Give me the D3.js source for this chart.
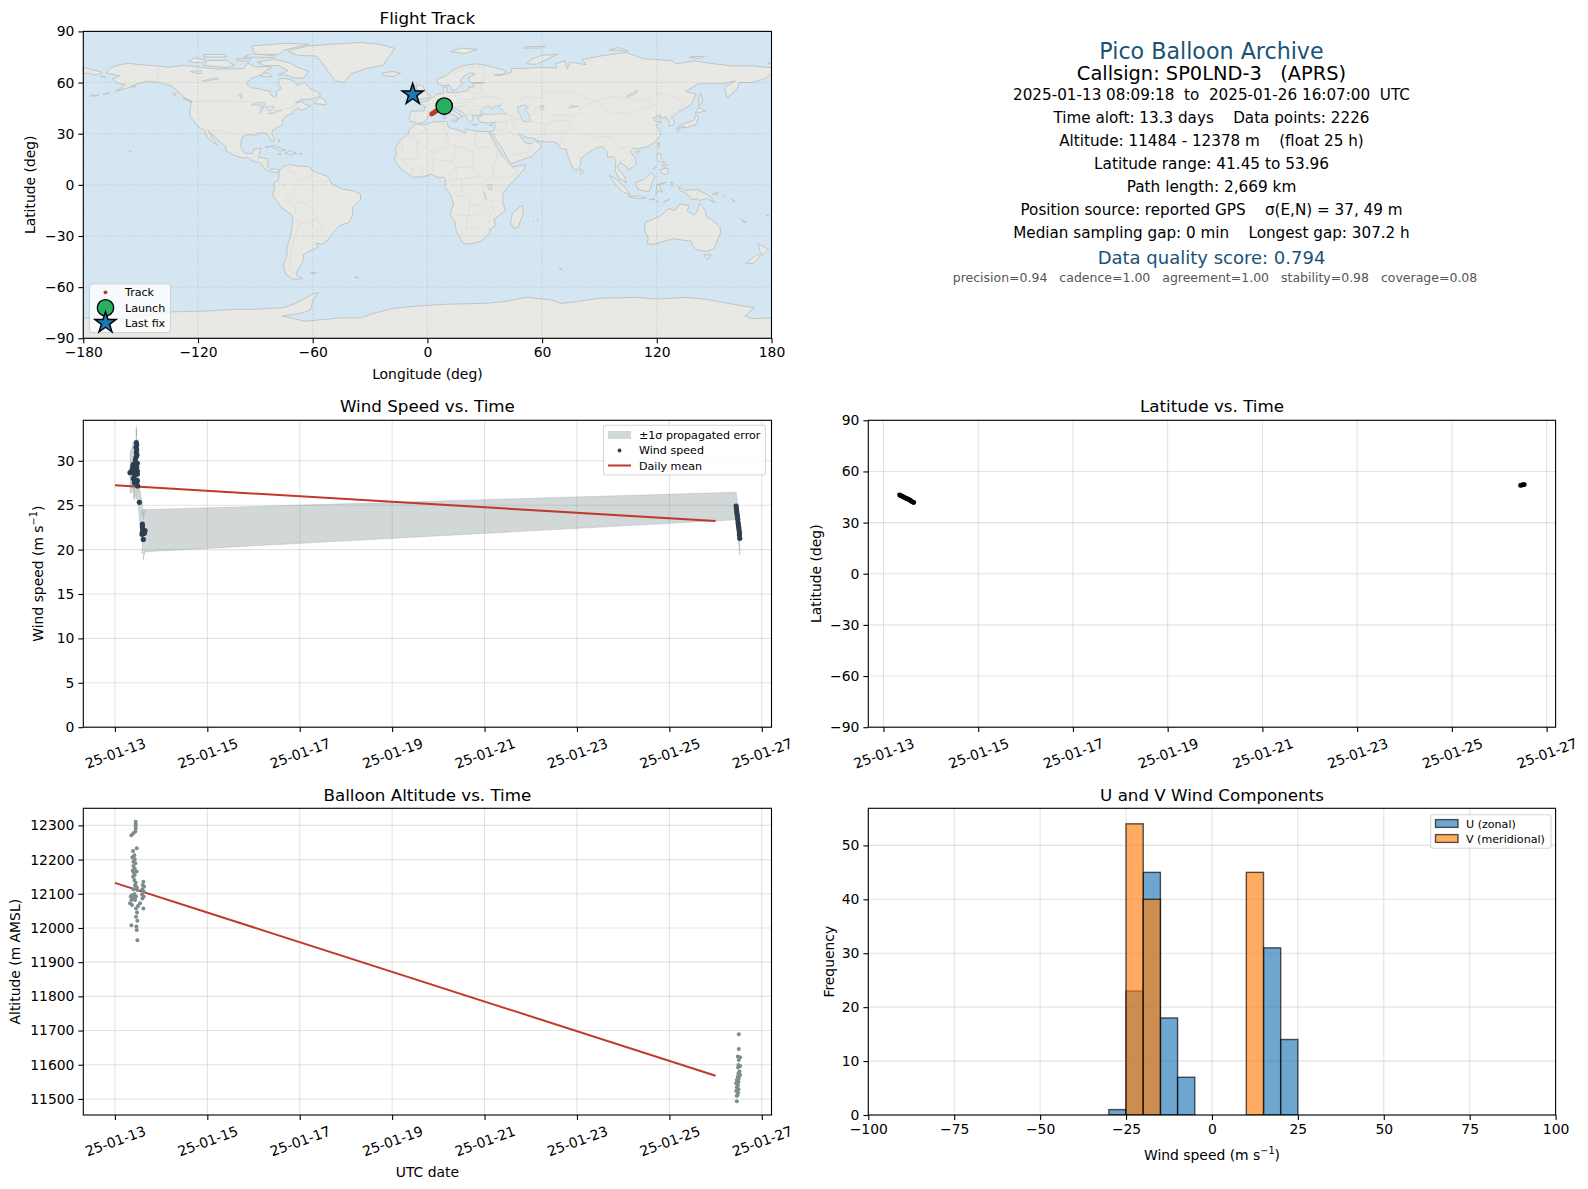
<!DOCTYPE html>
<html><head><meta charset="utf-8">
<script src="https://cdn.jsdelivr.net/npm/d3@7/dist/d3.min.js"></script>
<style>html,body{margin:0;padding:0;background:#fff}svg{display:block}text{font-family:"DejaVu Sans",sans-serif;fill:#000;white-space:pre}</style>
</head><body><svg id="c" width="1588" height="1189"></svg>
<script>
// ---------- land outlines (lon, lat) ----------
const continents = [
 [[-168,65.5],[-166,68.3],[-162,70.2],[-156.5,71.3],[-150,70.5],[-141,69.7],[-135,69],[-128,70],[-124,69.7],[-115,68.5],[-110,68],[-102,68],[-96,68.2],[-94,71.5],[-90,69],[-85,69.5],[-81.5,69],[-85,66.5],[-87,64.5],[-92,62.5],[-94.5,60],[-94,58.7],[-92.5,57],[-88,56.4],[-85,55.3],[-82.3,55],[-82,52.9],[-80,51.3],[-79,52],[-79,54.5],[-76.5,56.5],[-78,59],[-77.5,62.4],[-73.5,62.3],[-70,61],[-68,58.5],[-65.5,59.5],[-64.5,60.3],[-61.5,56.5],[-58,54.8],[-55.8,52.5],[-60,50.2],[-66,50.2],[-69,48],[-65,49],[-64.5,47.5],[-61,46],[-63.5,44.7],[-66,43.7],[-67,45],[-70,43.7],[-70.5,41.8],[-74,40.6],[-75.5,38],[-76,36.8],[-75.6,35.3],[-78,33.9],[-81,32],[-81.4,30],[-80,26.8],[-80.5,25.2],[-81.8,26],[-82.8,28],[-84,30],[-86,30.4],[-89.5,30.2],[-89.5,29.1],[-91,29.3],[-94,29.6],[-97,28],[-97.4,25.5],[-97.8,22.5],[-96,19],[-94.5,18.2],[-91.5,18.5],[-90.5,21],[-87,21.5],[-87.8,18.5],[-88.5,16],[-86,15.9],[-83.3,15],[-83.6,11],[-82,9],[-79.8,9.5],[-77.5,8.6],[-78,7.4],[-80.5,7.3],[-83,8.2],[-85.7,10],[-87.5,13],[-91.5,14],[-94.5,16.2],[-96.5,15.7],[-101,17.3],[-105.5,20],[-105.5,22.5],[-109,25.8],[-112.5,29.5],[-114.7,31.7],[-112.5,27.5],[-109.8,23],[-112,24.7],[-115,28],[-117.1,32.5],[-120.6,34.5],[-122.5,37.7],[-124.3,40.3],[-124,46],[-123,49],[-127,51],[-130,54.5],[-134,58],[-139,59.8],[-146,60.8],[-152,59.2],[-156,57.2],[-163,54.8],[-158,58.6],[-162,59.8],[-165,62],[-161,64],[-168,65.5]],
 [[-77.5,8.6],[-75.5,10.7],[-72,12],[-68,11],[-62,10.7],[-60,8.3],[-52,4.8],[-50,0.5],[-44.5,-2.5],[-38,-3.7],[-35,-5.5],[-35,-9],[-39,-13],[-39.2,-18],[-41,-22],[-46,-24],[-48.7,-27],[-52,-32.5],[-55,-34.8],[-58.3,-34],[-57,-36.5],[-62,-39],[-65,-41],[-65,-45],[-68,-50],[-68.5,-53],[-65.2,-55],[-70,-55.5],[-74,-52.5],[-75.5,-47],[-73.5,-42],[-73.5,-37],[-71.5,-30],[-70.3,-20],[-71.5,-17.2],[-76.2,-13.5],[-81.2,-5.5],[-80,-2.5],[-80.5,1],[-78,2.5],[-77.5,7]],
 [[-6,35.8],[-2,35.1],[3,36.9],[10,37.2],[11,33.8],[15,32.4],[20,30.5],[20,32.8],[25,31.6],[32.3,31.2],[32.6,29.8],[35.5,24],[37.2,21],[38.5,18],[43,12],[44.5,10.5],[51.2,11.8],[50.5,9],[47,4.5],[42,-1.5],[39.5,-5],[39.5,-10],[40.7,-15],[35,-20],[35.5,-24],[32.8,-26],[32.5,-28.5],[28,-33],[25.5,-34],[20,-34.8],[18.4,-34],[15,-27],[14.5,-22],[11.8,-17],[13.7,-11],[12,-5.5],[9,-1],[9.5,3.5],[8.5,4.5],[5.5,4.3],[2,6.3],[-2,4.8],[-7.5,4.4],[-13,8.5],[-15,11],[-17.3,14.7],[-16,19],[-17,21],[-14.5,26],[-10,30],[-9.7,32]],
 [[-9,37],[-9.5,38.8],[-8.8,43.2],[-1.8,43.4],[-1.2,46],[-4.6,48.4],[-1.5,48.7],[1.5,50.5],[4,52],[5,53.3],[8.5,53.8],[8.2,57],[10.5,57.6],[10,54.5],[12,54.2],[14.2,54],[18.5,54.7],[21,55.2],[21.5,57.5],[24,57.2],[24,59.3],[28,59.6],[30,60],[25,60],[22.5,60],[21.3,62.5],[25,65],[22,65.8],[17.8,62.5],[17.2,60.7],[18.8,59.8],[16.5,57.5],[14.3,55.5],[12.8,55.5],[11.3,58.8],[8,58.1],[5.5,59],[5,62],[10,64],[14,67.7],[19,70],[25.5,71],[31,70],[41,67],[40,65],[35,64.5],[38,64],[44,66],[44,68.2],[54,68.5],[60,69],[68,68.5],[67,71],[72,72.7],[73,68],[75,72],[83,70.5],[81,73.5],[90,75.5],[104,77.7],[113,74],[128,72.8],[130,71],[140,72.7],[150,71],[160,69.7],[170,69.8],[178,68.9],[180,68.9],[180,65.2],[177,62.5],[170,60],[163,60],[162,56],[156.7,51],[155.5,57],[161,61],[155,59.3],[142,59.3],[135,54.8],[140.5,53.3],[138,47],[132,43.2],[129.5,41],[127.5,39.7],[129.3,37],[128.8,35.2],[126.3,34.5],[126.6,37.5],[125,38.5],[125,40],[121.5,39],[122,41],[118,39],[119.3,37.3],[122.5,37],[119.5,35],[121.8,31.5],[122,29],[119.5,25.5],[116,22.8],[110.5,21.2],[108,21.5],[106,19.5],[108.8,15.5],[109.3,12],[105,8.7],[104.8,10],[100.8,13.4],[99.3,10],[103.3,4.5],[104,1.4],[100.5,3.5],[98.3,8],[98.5,14],[97,16.8],[94.3,16],[94,19.5],[91.5,22.6],[88.5,21.7],[85,19.5],[80.3,15.5],[80,11.5],[77.5,8],[75,12.5],[73,18.5],[72.7,21],[70,21],[68.5,23.5],[66.5,25.2],[61.5,25.2],[57,25.8],[56.5,27],[51,28],[48.5,30],[47.8,29],[50.3,26],[51.5,24.5],[54.5,24.2],[56.4,26.2],[59.8,22.5],[55,17],[45,12.8],[43.2,12.8],[39.2,21],[35,28],[34.8,29.5],[32.6,30],[32.3,31.2],[34.5,31.5],[36,36.8],[32,36.2],[27.5,36.8],[26.3,39.5],[29,41],[26,40.8],[23.5,40.5],[24,38],[22.7,36.6],[21,38.5],[19.5,41.5],[18.5,42.5],[13.7,45.5],[12.4,45],[12.5,44],[16,41.8],[18.5,40],[16.5,39.5],[16,38],[15.5,40],[12.5,41.5],[10.5,43],[8.5,44.4],[5,43.3],[3,43.2],[3.2,41.8],[0.5,40.5],[-0.3,38.7],[-2,36.8],[-5.3,36],[-7,37]],
 [[-180,68.9],[-175,67.5],[-170,66],[-173,64.3],[-178,65.5],[-180,65.2]],
 [[114,-22],[113.5,-26],[115.5,-31.5],[115,-34.3],[118,-35],[124,-33],[129,-31.6],[134,-32.5],[138,-33],[138.5,-35.5],[141,-38.2],[146,-39],[150,-37.5],[151.5,-33],[153.5,-28],[153,-25],[149,-20.5],[146,-18.8],[145.3,-15],[142.5,-10.8],[141,-16],[139.5,-17.5],[136,-15.5],[136.8,-12],[132,-11.3],[129.5,-15],[126,-14],[122.2,-18],[117,-20.7]],
 [[-180,-78],[-165,-78.5],[-155,-79.5],[-150,-77],[-135,-74.5],[-115,-74],[-100,-73],[-90,-73],[-75,-72],[-68,-69],[-60,-64],[-57,-63.2],[-60,-68],[-61,-73],[-65,-75],[-76,-77],[-64,-80],[-45,-78],[-35,-78],[-27,-75],[-18,-72.5],[-5,-71],[10,-70],[30,-69.5],[40,-68.5],[52,-66],[65,-67.5],[70,-69.5],[78,-68.5],[90,-66.5],[110,-66],[120,-67],[135,-66],[145,-67],[155,-69],[165,-71],[171,-72],[166,-77],[170,-78.5],[180,-78],[180,-90],[-180,-90]],
 [[-73,78.2],[-68,76],[-58,75.5],[-54,70],[-51,65],[-48,61],[-43.5,59.9],[-40,65],[-32,68.2],[-23,70.2],[-21,74],[-19,77],[-17,80],[-25,82.5],[-35,83.5],[-50,82.5],[-62,81.5],[-70,79.5]]
];
const islands = [
 [[-80,73.7],[-72,71.5],[-68,69],[-62,66.5],[-65,62.5],[-70,62.8],[-74,64.5],[-78,64.5],[-73,67],[-78,70],[-85,70],[-89,72]],
 [[-117,70],[-105,68.8],[-101,70],[-105,73],[-115,73]],[[-125,72],[-118,71.5],[-116,73.5],[-122,74.5]],
 [[-90,76.5],[-78,76.5],[-75,79],[-62,82.5],[-75,83],[-92,81.5]],[[-96,75],[-80,74.7],[-80,75.7],[-92,76.8]],
 [[-117,75],[-105,75],[-106,76.5],[-117,76.5]],[[-100,73],[-93,72.5],[-92,74],[-100,74]],[[-87,63.5],[-81,63.5],[-83,65.5],[-86,65.7]],
 [[-59,47.7],[-53,46.8],[-53,49],[-56,51.5],[-58,49.5]],[[-128,50.7],[-125,50],[-123.5,48.4]],[[-133,54],[-131.5,53],[-132,52],[-133,53]],
 [[-155,57.5],[-152.5,57.5],[-153,58.2]],[[-156,20],[-155,19.5],[-155.5,19]],[[-176,52],[-172,52.3],[-172,52.8],[-176,52.5]],[[-170,53],[-166,53.8],[-168,53.5]],[[-171,63.5],[-168.5,63.2],[-170,63.8]],
 [[-85,22],[-80,23],[-74.2,20.2],[-77.5,19.9],[-78,20.7],[-82,22.5]],[[-74.4,18.5],[-72,20],[-68.5,18.5],[-71.5,17.7]],[[-78.3,18.3],[-76.3,18.1],[-77,17.8]],[[-67.2,18.4],[-65.7,18.3],[-66.5,18]],[[-78,26.7],[-77,26],[-77.5,25]],
 [[-61,-51.5],[-58,-51.5],[-59,-52.3]],[[-38,-54],[-36,-54.2],[-36.5,-54.8]],[[69,-49],[70.5,-49.5],[69.5,-49.7]],
 [[-5.5,50],[1.3,51.2],[1.7,52.7],[0,53.5],[-1.5,55],[-2,57.5],[-3.5,58.6],[-6,58.5],[-5.5,56],[-3,54],[-5,52]],
 [[-10,52],[-6.2,52.2],[-6,54],[-8,55.2],[-10,54]],[[-24,65.5],[-18,66.5],[-14,65.5],[-18,63.5],[-22.5,64]],
 [[12,78],[20,77],[26,79.5],[17,80.2]],[[52,71],[57,70.7],[68,76.5],[60,76],[54,73.5]],[[50,80.2],[60,80.3],[62,81.3],[52,81]],[[95,79],[105,78.5],[100,80.5]],[[137,75],[145,75.5],[142,74]],[[178,71],[180,71],[179,71.5]],
 [[12.5,38],[15.5,38],[15,36.7]],[[8.3,41],[9.7,41],[9.5,39],[8.5,39]],[[8.7,42.5],[9.5,43],[9.3,41.5]],[[23.5,35.5],[26.2,35.2],[24,35]],[[32.5,35],[34.5,35.6],[33.5,34.6]],
 [[49.5,-12],[50.3,-16],[47.5,-24.8],[45,-25.5],[43.5,-22],[44.5,-16.5]],[[55.3,-21],[55.8,-21.2],[55.4,-21.4]],[[57.3,-20],[57.8,-20.3],[57.4,-20.5]],
 [[80,9.7],[81.8,7.5],[80.5,6],[79.8,8]],[[131,34],[136,33.6],[140.5,35.5],[141.8,39.5],[140.5,41],[139.5,38],[136,36.5],[132,35]],[[140,42],[145.5,43.3],[142,45.5]],[[130,33.5],[132,33],[131,31]],[[132.5,34],[134.5,34.2],[133,33]],
 [[142,46],[144,49],[143,54],[142,52]],[[120.2,23],[121.5,25.2],[121,22]],[[108.7,19.3],[111,20],[110,18.3]],
 [[120.5,18.5],[122.3,18.3],[122,16],[124,13],[121,13.7],[120,16]],[[122,9],[125.5,9.8],[126.3,7],[124,6],[122,7.5]],[[118,9],[119.5,11],[118.8,9.5]],[[122.5,11.5],[125.5,12],[124.5,10]],
 [[109,1.5],[113,3],[117,7],[119,5],[117.5,1],[116,-4],[110.5,-3],[109,0]],[[95.3,5.5],[98,4],[104,-2],[106,-5.8],[102,-4],[98.5,0]],[[105.2,-6.8],[110,-6.5],[114.5,-7.7],[110,-8.2]],
 [[119.5,-5.5],[120,0],[125,1.5],[121,0],[123,-4.5],[121,-3]],[[127.5,2],[128.5,1],[128,-0.8]],[[116,-8.5],[119,-8.3],[117,-9]],[[119.5,-9.5],[120.8,-9.8],[120,-10]],[[123.5,-10.2],[127,-8.5],[125,-9.3]],
 [[131,-1],[135,-3.3],[141,-2.7],[147,-6],[150.5,-10.5],[146,-8],[143,-9],[138,-8.3],[135,-4.5],[132.5,-3.8]],[[149,-5.5],[152,-4.2],[152,-5.5]],[[155,-6],[156,-7],[155.5,-6.5]],[[159,-8],[161,-10],[160,-9.8]],
 [[173,-34.5],[178.5,-37.7],[175,-41.5],[174,-39]],[[172.7,-40.7],[174,-42],[170.5,-46],[166.5,-46]],[[144.7,-41],[148.3,-41],[147,-43.5],[146,-43.5]],[[164,-20],[167,-22.3],[165,-21.5]],[[177.3,-17.5],[178.7,-18],[177.5,-18.3]]
];
const waters = [
 [[28,41.5],[31.5,41.2],[36,41.5],[41.5,41.5],[39,44.5],[37,45.3],[38.5,47],[35,45.7],[33.5,44.4],[33,46],[30.8,46.4],[28.5,44],[27.8,42.5]],
 [[47,45.5],[51,47],[53,45.3],[51,44.5],[53,41.5],[54,37],[50,37.3],[49,39.5],[47.5,43]],
 [[-92,46.8],[-88,48.7],[-85,47.8],[-85,46.6],[-88,46.8]],[[-87.5,41.8],[-86.5,43.5],[-85.2,45.8],[-87.5,45.5]],[[-84.5,46],[-80,45.8],[-81.5,43.5],[-82.5,43.2],[-83.8,44]],[[-83.3,41.8],[-79,42.8],[-79,42.6],[-82,41.5]],[[-79.7,43.3],[-76.3,44],[-76.5,43.4]],
 [[-124,66.5],[-118,67],[-118,65.3],[-122,65.5]],[[-118,61],[-110,62.8],[-109,62.2],[-116,60.8]],[[-99,53],[-97,53.5],[-97,50.5],[-98,52]],
 [[58.5,46],[61,46.5],[60,44]],[[75,46.5],[79,46],[74,45]],[[104,52],[110,55.5],[109.5,54],[105,51.5]],[[31,0],[34,0],[33.5,-3],[32,-2.5]],[[29.5,-4],[30.5,-7],[31,-8.5],[29.8,-6]]
];
const borders = [
 [[-123,49],[-95,49],[-89,48],[-83,46],[-82.5,42],[-79,43],[-76,44],[-74.7,45],[-71,45],[-69,47.3],[-67.5,45.5]],[[-141,69.7],[-141,60.2],[-135,59]],[[-117,32.5],[-108,31.5],[-106.5,31.7],[-101,29.5],[-97.3,25.9]],
 [[-91.5,14.5],[-91,17.5],[-89,17.8]],[[-88,15.8],[-89.3,14],[-87.5,13]],[[-83.3,15],[-85,13.5],[-87,13]],[[-83.7,11],[-85.7,11]],[[-82.7,9.5],[-83,8.2]],
 [[-72,12],[-72.5,8],[-67.5,6],[-67.5,2],[-70,1],[-69.5,-4.2],[-74,-7.5],[-70.5,-11],[-69,-15],[-69.5,-17.5],[-70.3,-18.3]],[[-60,8.3],[-61,5],[-64,4],[-67.5,2]],[[-57,6],[-58,2],[-52,2.2],[-52,4.8]],[[-78,1.5],[-75,0],[-75.5,-2],[-78.5,-4.5],[-80.3,-3.5]],[[-69.5,-11],[-65,-10],[-60,-14],[-58,-16],[-58,-20],[-62.5,-22],[-67,-23],[-69,-19]],[[-58,-20],[-54.5,-25.5],[-58,-27],[-57.5,-30],[-53.5,-33.8]],[[-62.5,-22],[-60,-24],[-58,-27]],[[-67,-23],[-70,-33],[-71.5,-40],[-72,-50],[-68.5,-52.5]],
 [[-2,35.1],[-1,32],[-8.7,27.5],[-13,27.7]],[[-8.7,27.5],[-4.8,25],[3,19],[12,23.5]],[[8,37],[9.5,30],[10,24.5]],[[11.5,33],[10,30],[12,23.5],[15,23],[24,19.5],[25,22],[25,31.6]],[[25,22],[36.5,22]],[[24,19.5],[24,10],[27,5],[31,3.7],[35,4.5],[42,4],[48,8],[44,10.5]],[[36.5,22],[36,15],[38,18],[43,12.5]],[[35,4.5],[34,10],[36,15]],[[-17,21],[-13,21],[-13,27.7]],[[-16.5,16],[-12,15],[-5,15.5],[-5.5,25]],[[3,19],[3.5,15],[3,12],[2.5,6.3]],[[-12,15],[-11.5,12],[-8,10],[-8,4.5]],[[-5,10],[-2.5,11],[-2.8,5]],[[3.5,15],[13.5,13.5],[15,10],[8.8,4.5]],[[13.5,13.5],[15,23]],[[14.5,10],[23,10.5]],[[15,8],[15.5,3],[9.8,2.2]],[[15.5,3],[18,3.5],[27,5]],[[14,-4.5],[18,-4],[18,3.5]],[[12.5,-6],[22,-7],[22,-11],[24,-12],[28,-12],[30,-8.5],[29,-2],[31,3.7]],[[34,0],[42,-1.5]],[[30,-1],[34,-1],[39.5,-4.7]],[[30,-8.5],[34,-9.5],[40,-10.5]],[[12,-17],[23,-18],[25,-18],[30,-15.5],[34,-12],[35,-16]],[[14.5,-17.3],[21,-18],[20,-28.5],[17,-28.7]],[[20,-25],[25.5,-25.5],[29,-22],[32.5,-26]],[[33,-16],[32,-22.5]],[[22,-11],[22,-18]],
 [[-9,42],[-6.5,42],[-7,38],[-7.4,37.2]],[[-1.8,43.4],[3,42.5]],[[2.5,51],[6,49.5],[8,49],[7.5,47.5],[6,46.3],[7,44]],[[6,51.5],[7,53.3]],[[9,54.8],[8.5,54.8]],[[7.5,47.5],[13,47.5],[17,48],[22,48.5],[24,48],[28,45.5],[29.5,45.3]],[[14,54],[15,51],[19,49.5],[24,50.5],[23.5,54],[21,55.2]],[[24,50.5],[32,52],[40,50],[38.5,47]],[[23.5,54],[31,53],[28,56],[27.5,59.5]],[[21,56.3],[28,56]],[[22.5,57.7],[27,57.5]],[[28.8,60],[30,65],[29,69.5]],[[14,65],[20,69]],[[20,69],[25.5,68.8],[29,69.5]],[[13.7,45.5],[19,46],[22.5,44.3],[22.5,41.5],[19.5,41.5]],[[26,41.5],[22.5,41.5],[20.5,40]],[[22.5,44],[28,43.7]],[[26.3,41],[28,42]],
 [[36,36.8],[42,37],[44.5,39.5],[41.5,41.5]],[[44.5,39.5],[48,39],[44,37.5],[46,33],[48.5,30]],[[42,37],[41,33.5],[39,32],[35,29.5]],[[46,33],[42,31],[47.5,29]],[[39,32],[36,32.5],[35.7,34.5],[36,36.8]],[[43,17],[52,19],[55,22],[52,24]],[[53,17],[52,19]],
 [[61,25.2],[61.5,35.5],[66,37.3],[71,38],[75,37],[74,33],[71,31],[66.5,30],[61,29.5]],[[61.5,35.5],[54,37]],[[53,41.5],[56,41.5],[56,45],[61,44],[66,41],[70.5,41],[74,40],[80,42],[80,45],[87.5,49],[83,51],[77,54],[70,55],[61,54],[59,51],[51,51.5],[47,49]],[[75,37],[78,35],[79,32],[81,30],[88,27.8],[97,28.5],[98,24],[101,21.5],[106,22.5],[108,21.5]],[[68.5,23.5],[71,25],[70,28],[74.5,32]],[[88,27.8],[89,26],[92,25],[93,23],[92.3,21]],[[101,21.5],[98,18],[99,11]],[[101,21.5],[105,18],[107.5,14.5],[105,11]],[[100,14],[103,14.5]],[[87.5,49],[98,52],[107,50],[114,50],[120,53.5],[125,53],[135,48.5],[131,43]],[[87.5,49],[96,42.7],[105,41.7],[112,44],[119,47],[114,50]],[[124.5,40],[130,42.5]],[[126,38],[128.5,38.5]],
 [[141,-2.7],[141,-9]]
];
// ---------- flight track ----------
const trackLon = [2.2,2.6,3,3.5,4,4.5,5.2,6,6.8,7.6,8.3,8.8,-9.2,-8.8,-8.4,-8];
const trackLat = [41.5,41.8,42.1,42.5,42.9,43.2,43.7,44.2,44.7,45.2,45.7,46.2,51.9,52.1,52.3,52.5];
const launchPoint = [8.8,46.2];
const lastFix = [-7.7,53];
const lonTicks = [-180,-120,-60,0,60,120,180];
const latTicks = [-90,-60,-30,0,30,60,90];
// ---------- wind speed (days since 2025-01-13 00:00 UTC) ----------
const windDays = [.327,.370,.385,.399,.399,.399,.421,.428,.428,.442,.442,.457,.457,.464,.464,.471,.471,.471,.471,.478,.486,.486,.486,.486,.493,.529,.594,.594,.586,.594,.601,.651,.637,.615,.623,13.444,13.452,13.458,13.465,13.473,13.48,13.487,13.494,13.501,13.508,13.516,13.516,13.523];
const windSpeed = [28.66,28.96,29.34,29.60,28.74,28.02,27.54,29.04,28.40,27.84,30.09,30.39,31.52,32.04,30.91,31.78,31.22,29.26,27.39,30.65,29.71,28.85,28.51,27.76,27.16,25.32,22.88,22.58,21.72,21.98,22.28,22.13,21.83,21.15,22.12,24.91,24.6,24.27,24.0,23.71,23.41,23.03,22.77,22.5,22.2,21.9,21.64,21.27];
const windSigma = [2.3,2.5,2.4,2.5,2.4,2.2,2.0,2.1,2.0,2.0,2.0,2.0,1.9,1.9,1.9,1.8,1.8,1.8,1.7,1.8,1.7,1.7,1.7,1.6,1.6,1.7,2.3,2.3,2.2,2.3,2.3,2.3,2.3,2.3,2.37,1.55,1.55,1.6,1.6,1.7,1.7,1.8,1.8,1.8,1.9,1.9,1.9,1.9];
const windMeanDays = [0,13];
const windMean = [27.24,23.22];
// ---------- latitude ----------
const latDays = [.34,.36,.38,.40,.42,.44,.46,.48,.50,.52,.54,.56,.58,.60,.62,.64,13.45,13.47,13.49,13.51,13.53];
const latValues = [46.2,45.9,45.6,45.3,45,44.8,44.5,44.2,44,43.7,43.4,43.1,42.7,42.3,42,41.8,51.8,52,52.1,52.2,52.3];
// ---------- altitude ----------
const altDays = [.450,.450,.450,.450,.443,.400,.356,.472,.392,.421,.378,.428,.400,.443,.400,.428,.385,.472,.407,.428,.392,.421,.450,.436,.472,.400,.486,.616,.602,.631,.595,.623,.587,.623,.595,.421,.371,.342,.457,.400,.356,.436,.327,.371,.544,.501,.457,.616,.479,.457,.486,.356,.465,.472,.486,13.502,13.502,13.48,13.531,13.502,13.495,13.531,13.487,13.516,13.495,13.531,13.48,13.502,13.459,13.495,13.444,13.487,13.459,13.495,13.444,13.487,13.473,13.459,13.459];
const altValues = [12311,12304,12298,12291,12282,12277,12271,12233,12225,12213,12207,12201,12194,12189,12181,12174,12168,12165,12162,12155,12150,12140,12132,12125,12119,12113,12111,12135,12126,12121,12113,12106,12098,12092,12086,12099,12096,12092,12092,12087,12082,12082,12072,12067,12072,12064,12057,12057,12045,12033,12021,12008,12004,11994,11964,11689,11646,11624,11622,11614,11599,11596,11592,11580,11575,11570,11565,11560,11555,11550,11546,11541,11534,11528,11523,11518,11511,11509,11493];
const altMeanDays = [0,13];
const altMean = [12132,11568];
const altTicks = [11500,11600,11700,11800,11900,12000,12100,12200,12300];
// ---------- histograms ----------
const uBinStart = [-30,-25,-20,-15,-10,15,20];
const uCounts = [1,23,45,18,7,31,14];
const vBinStart = [-25,-20,10];
const vCounts = [54,40,45];
const binWidth = 5;
const histXTicks = [-100,-75,-50,-25,0,25,50,75,100];
const histYTicks = [0,10,20,30,40,50];
const dateTicks = [0,2,4,6,8,10,12,14];
// ---------- text block ----------
const infoLines = [
 ["Pico Balloon Archive",22.2,"#1a5276",50.6,1211.5],
 ["Callsign: SP0LND-3   (APRS)",19.4,"#000",73,1211.5],
 ["2025-01-13 08:09:18  to  2025-01-26 16:07:00  UTC",15.2,"#000",94.5,1211.5],
 ["Time aloft: 13.3 days    Data points: 2226",15.2,"#000",117.5,1211.5],
 ["Altitude: 11484 - 12378 m    (float 25 h)",15.2,"#000",140.5,1211.5],
 ["Latitude range: 41.45 to 53.96",15.3,"#000",163.5,1211.5],
 ["Path length: 2,669 km",15.3,"#000",186.5,1211.5],
 ["Position source: reported GPS    σ(E,N) = 37, 49 m",15.2,"#000",209.5,1211.5],
 ["Median sampling gap: 0 min    Longest gap: 307.2 h",15.2,"#000",232.5,1211.5],
 ["Data quality score: 0.794",18,"#1a5276",257.5,1211.5],
 ["precision=0.94   cadence=1.00   agreement=1.00   stability=0.98   coverage=0.08",12.5,"#555",277.5,1215]
];
// ---------- drawing ----------
const RED="#c0392b", NAVY="#2c3e50", SLATE="#7f8c8d";
const svg=d3.select("#c");
const L=83.3,R=771.5,L2=868.3,R2=1555.6;
const T1=31.4,B1=338.3,T2=420.3,B2=727.2,T3=808.3,B3=1115;
const fmtDate=d=>d3.utcFormat("%y-%m-%d")(new Date(Date.UTC(2025,0,13+d)));
function panel(id,x0,x1,y0,y1,xs,ys,xt,yt,opt={}){
  const g=svg.append("g").attr("id",id).attr("transform",`translate(${x0},${y0})`);
  const w=x1-x0,h=y1-y0;
  g.append("defs").append("clipPath").attr("id","clip-"+id).append("rect").attr("width",w).attr("height",h);
  const bg=g.append("g");
  const grid=g.append("g").attr("class","grid");
  const dash=opt.gridDash||null, gc=opt.gridColor||"#b0b0b0", ga=opt.gridAlpha||0.35;
  grid.selectAll("line.v").data(xt).join("line").attr("x1",d=>xs(d)).attr("x2",d=>xs(d)).attr("y1",0).attr("y2",h)
    .attr("stroke",gc).attr("stroke-opacity",ga).attr("stroke-width",1.1).attr("stroke-dasharray",dash);
  grid.selectAll("line.h").data(yt,d=>"h"+d).join("line").attr("x1",0).attr("x2",w).attr("y1",d=>ys(d)).attr("y2",d=>ys(d))
    .attr("stroke",gc).attr("stroke-opacity",ga).attr("stroke-width",1.1).attr("stroke-dasharray",dash);
  const marks=g.append("g").attr("clip-path",opt.noClip?null:`url(#clip-${id})`);
  const top=g.append("g");
  const ax=g.append("g").attr("transform",`translate(0,${h})`).call(d3.axisBottom(xs).tickValues(xt).tickSize(4.9).tickPadding(4).tickFormat(opt.xFormat||d3.format("d")));
  const ay=g.append("g").call(d3.axisLeft(ys).tickValues(yt).tickSize(4.9).tickPadding(4).tickFormat(d3.format("d")));
  [ax,ay].forEach(a=>{a.select(".domain").remove();a.selectAll("line").attr("stroke","#000").attr("stroke-width",1.1);
    a.selectAll("text").attr("font-size",13.9).attr("font-family","DejaVu Sans").attr("fill","#000");});
  if(opt.rotate){ax.selectAll("text").attr("y",null).attr("dy",null).attr("x",null).attr("text-anchor","middle")
    .attr("dominant-baseline","central").attr("transform","translate(0,26) rotate(-20)");}
  g.append("rect").attr("width",w).attr("height",h).attr("fill","none").attr("stroke","#000").attr("stroke-width",1.1);
  return {g,bg,marks,top,w,h};
}
function label(txt,x,y,size,anchor="middle",fill="#000",rot=0){
  const t=svg.append("text").attr("x",x).attr("y",y).attr("font-size",size).attr("text-anchor",anchor)
    .attr("dominant-baseline","central").attr("fill",fill).style("fill",fill);
  if(rot)t.attr("transform",`rotate(${rot},${x},${y})`);
  t.text(txt);return t;
}
function windLabel(x,y,rot){
  const t=label("Wind speed (m s",x,y,13.9,"middle","#000",rot);
  t.append("tspan").attr("font-size",9.7).attr("dy",-5).text("−1");
  t.append("tspan").attr("dy",5).text(")");
}
// Map
{
 const xs=d3.scaleLinear().domain([-180,180]).range([0,R-L]);
 const ys=d3.scaleLinear().domain([-90,90]).range([B1-T1,0]);
 const p=panel("map",L,R,T1,B1,xs,ys,lonTicks,latTicks,{gridDash:"1.5,1.5",gridColor:"#9aa5a8",gridAlpha:0.3});
 const line=d3.line().x(d=>xs(d[0])).y(d=>ys(d[1]));
 p.bg.append("rect").attr("width",p.w).attr("height",p.h).attr("fill","#d4e6f1");
 p.bg.selectAll("path.land").data(continents.concat(islands)).join("path").attr("d",d=>line(d)+"Z")
   .attr("fill","#e8e8e4").attr("stroke","#bcc1c2").attr("stroke-width",0.9).attr("stroke-linejoin","round");
 p.bg.selectAll("path.water").data(waters).join("path").attr("d",d=>line(d)+"Z")
   .attr("fill","#d4e6f1").attr("stroke","#bcc1c2").attr("stroke-width",0.7);
 p.bg.selectAll("path.border").data(borders).join("path").attr("d",line)
   .attr("fill","none").attr("stroke","#dcdcd8").attr("stroke-width",0.8);
 p.marks.selectAll("circle").data(trackLon).join("circle").attr("cx",d=>xs(d)).attr("cy",(d,i)=>ys(trackLat[i])).attr("r",2.4).attr("fill",RED);
 p.marks.append("circle").attr("cx",xs(launchPoint[0])).attr("cy",ys(launchPoint[1])).attr("r",8.2)
   .attr("fill","#27ae60").attr("stroke","#000").attr("stroke-width",1.4);
 p.marks.append("path").attr("d",d3.symbol(d3.symbolStar,140)).attr("transform",`translate(${xs(lastFix[0])},${ys(lastFix[1])})`)
   .attr("fill","#1f77b4").attr("stroke","#000").attr("stroke-width",1.4);
 // legend
 const lg=svg.append("g");
 lg.append("rect").attr("x",89.5).attr("y",284).attr("width",81).attr("height",48.5).attr("rx",2.5)
   .attr("fill","#fff").attr("fill-opacity",.8).attr("stroke","#ccc").attr("stroke-opacity",.8).attr("stroke-width",1.1);
 lg.append("circle").attr("cx",105.5).attr("cy",292.3).attr("r",1.9).attr("fill",RED);
 lg.append("circle").attr("cx",105.5).attr("cy",307.8).attr("r",8.2).attr("fill","#27ae60").attr("stroke","#000").attr("stroke-width",1.4);
 lg.append("path").attr("d",d3.symbol(d3.symbolStar,140)).attr("transform","translate(105.5,323)").attr("fill","#1f77b4").attr("stroke","#000").attr("stroke-width",1.4);
 [["Track",292.3],["Launch",308],["Last fix",323.3]].forEach(d=>label(d[0],125,d[1],11.1,"start"));
}
label("Flight Track",427.4,17.6,16.7);
label("Longitude (deg)",427.4,374,13.9);
label("Latitude (deg)",30.5,184.8,13.9,"middle","#000",-90);
// text
infoLines.forEach(d=>label(d[0],d[4],d[3],d[1],"middle",d[2]));
// Wind speed
const xDaysL=d3.scaleLinear().domain([-0.684,14.21]).range([0,R-L]);
{
 const ys=d3.scaleLinear().domain([0,34.56]).range([B2-T2,0]);
 const p=panel("wind",L,R,T2,B2,xDaysL,ys,dateTicks,[0,5,10,15,20,25,30],{rotate:true,xFormat:fmtDate,gridAlpha:.35});
 const idx=d3.range(windDays.length);
 p.marks.append("path").attr("d",d3.area().x(i=>xDaysL(windDays[i])).y0(i=>ys(windSpeed[i]-windSigma[i])).y1(i=>ys(windSpeed[i]+windSigma[i]))(idx))
   .attr("fill",SLATE).attr("fill-opacity",.35).attr("stroke",SLATE).attr("stroke-opacity",.25).attr("stroke-width",1);
 p.marks.append("path").attr("d",d3.line().x((d,i)=>xDaysL(windMeanDays[i])).y(d=>ys(d))(windMean)).attr("fill","none").attr("stroke",RED).attr("stroke-width",2);
 p.marks.selectAll("circle").data(idx).join("circle").attr("cx",i=>xDaysL(windDays[i])).attr("cy",i=>ys(windSpeed[i])).attr("r",2.6).attr("fill",NAVY);
 const lg=svg.append("g");
 lg.append("rect").attr("x",603.5).attr("y",425.3).attr("width",162).attr("height",49.7).attr("rx",2.5)
   .attr("fill","#fff").attr("fill-opacity",.8).attr("stroke","#ccc").attr("stroke-opacity",.8).attr("stroke-width",1.1);
 lg.append("rect").attr("x",608).attr("y",431).attr("width",23).attr("height",8).attr("fill",SLATE).attr("fill-opacity",.35);
 lg.append("circle").attr("cx",619.5).attr("cy",450.5).attr("r",1.9).attr("fill",NAVY);
 lg.append("line").attr("x1",608).attr("x2",631).attr("y1",465.5).attr("y2",465.5).attr("stroke",RED).attr("stroke-width",2);
 [["±1σ propagated error",435.5],["Wind speed",450.5],["Daily mean",466.5]].forEach(d=>label(d[0],639,d[1],11.1,"start"));
}
label("Wind Speed vs. Time",427.4,405.8,16.7);
windLabel(37.7,573.7,-90);
// Latitude
{
 const xs=d3.scaleLinear().domain([-0.32,14.19]).range([0,R2-L2]);
 const ys=d3.scaleLinear().domain([-90,90]).range([B2-T2,0]);
 const p=panel("lat",L2,R2,T2,B2,xs,ys,dateTicks,latTicks,{rotate:true,xFormat:fmtDate});
 p.marks.selectAll("circle").data(latDays).join("circle").attr("cx",d=>xs(d)).attr("cy",(d,i)=>ys(latValues[i])).attr("r",2.4).attr("fill","#000");
}
label("Latitude vs. Time",1212,405.8,16.7);
label("Latitude (deg)",816.3,573.7,13.9,"middle","#000",-90);
// Altitude
{
 const ys=d3.scaleLinear().domain([11453,12350]).range([B3-T3,0]);
 const p=panel("alt",L,R,T3,B3,xDaysL,ys,dateTicks,altTicks,{rotate:true,xFormat:fmtDate});
 p.marks.append("path").attr("d",d3.line().x((d,i)=>xDaysL(altMeanDays[i])).y(d=>ys(d))(altMean)).attr("fill","none").attr("stroke",RED).attr("stroke-width",2);
 p.marks.selectAll("circle").data(altDays).join("circle").attr("cx",d=>xDaysL(d)).attr("cy",(d,i)=>ys(altValues[i])).attr("r",2).attr("fill",SLATE);
}
label("Balloon Altitude vs. Time",427.4,795,16.7);
label("UTC date",427.4,1172,13.9);
label("Altitude (m AMSL)",15.5,961.7,13.9,"middle","#000",-90);
// Histogram
{
 const xs=d3.scaleLinear().domain([-100,100]).range([0,R2-L2]);
 const ys=d3.scaleLinear().domain([0,56.88]).range([B3-T3,0]);
 const p=panel("hist",L2,R2,T3,B3,xs,ys,histXTicks,histYTicks,{});
 const bars=(st,ct,col)=>p.marks.append("g").selectAll("rect").data(st).join("rect")
   .attr("x",d=>xs(d)).attr("width",d=>xs(d+binWidth)-xs(d)).attr("y",(d,i)=>ys(ct[i])).attr("height",(d,i)=>ys(0)-ys(ct[i]))
   .attr("fill",col).attr("fill-opacity",.65).attr("stroke","#000").attr("stroke-opacity",.65).attr("stroke-width",1.4);
 bars(uBinStart,uCounts,"#1f77b4");
 bars(vBinStart,vCounts,"#ff7f0e");
 const lg=svg.append("g");
 lg.append("rect").attr("x",1430.7).attr("y",814.7).attr("width",120.3).attr("height",33.6).attr("rx",2.5)
   .attr("fill","#fff").attr("fill-opacity",.8).attr("stroke","#ccc").attr("stroke-opacity",.8).attr("stroke-width",1.1);
 [["U (zonal)","#1f77b4",823.5],["V (meridional)","#ff7f0e",838.5]].forEach(d=>{
  lg.append("rect").attr("x",1435.5).attr("y",d[2]-3.9).attr("width",22.5).attr("height",7.8).attr("fill",d[1]).attr("fill-opacity",.65).attr("stroke","#000").attr("stroke-opacity",.65).attr("stroke-width",1.4);
  label(d[0],1466,d[2]+.5,11.1,"start");
 });
}
label("U and V Wind Components",1212,795,16.7);
windLabel(1212,1155,0);
label("Frequency",828.7,961.7,13.9,"middle","#000",-90);
</script></body></html>
